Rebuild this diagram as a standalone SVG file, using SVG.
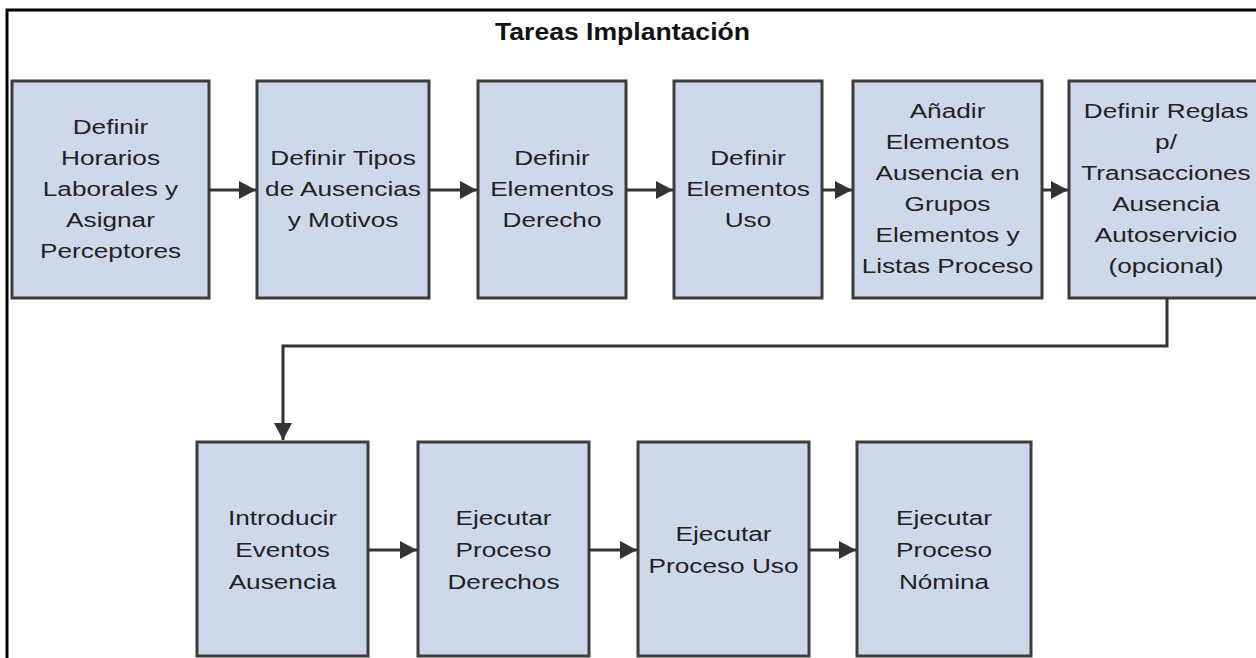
<svg xmlns="http://www.w3.org/2000/svg" width="1256" height="658" viewBox="0 0 1256 658">
<defs>
<style>
.box{fill:#cdd9ea;stroke:#3c3c3c;stroke-width:3}
.t{font-family:"Liberation Sans",Arial,sans-serif;font-size:20px;fill:#222;text-anchor:middle}
.ttl{font-family:"Liberation Sans",Arial,sans-serif;font-size:24px;font-weight:bold;fill:#111;text-anchor:middle}
.c{fill:none;stroke:#333;stroke-width:3}
</style>
<marker id="ah" markerUnits="userSpaceOnUse" markerWidth="18" markerHeight="20" viewBox="0 0 18 20" refX="17" refY="10" orient="auto">
<path d="M0,1 L17,10 L0,19 Z" fill="#333"/>
</marker>
</defs>
<rect width="1256" height="658" fill="#fff"/>
<path d="M7,658 V10 H1256" fill="none" stroke="#000" stroke-width="3"/>
<text class="ttl" x="622.5" y="40" textLength="255" lengthAdjust="spacingAndGlyphs">Tareas Implantación</text>

<g id="n1"><rect class="box" x="12" y="81" width="197" height="217"/>
<text class="t" transform="translate(110.5,0) scale(1.31,1)"><tspan x="0" y="134">Definir</tspan><tspan x="0" y="165">Horarios</tspan><tspan x="0" y="196">Laborales y</tspan><tspan x="0" y="227">Asignar</tspan><tspan x="0" y="258">Perceptores</tspan></text></g>

<g id="n2"><rect class="box" x="257" y="81" width="172" height="217"/>
<text class="t" transform="translate(343,0) scale(1.31,1)"><tspan x="0" y="165">Definir Tipos</tspan><tspan x="0" y="196">de Ausencias</tspan><tspan x="0" y="227">y Motivos</tspan></text></g>

<g id="n3"><rect class="box" x="478" y="81" width="148" height="217"/>
<text class="t" transform="translate(552,0) scale(1.31,1)"><tspan x="0" y="165">Definir</tspan><tspan x="0" y="196">Elementos</tspan><tspan x="0" y="227">Derecho</tspan></text></g>

<g id="n4"><rect class="box" x="674" y="81" width="148" height="217"/>
<text class="t" transform="translate(748,0) scale(1.31,1)"><tspan x="0" y="165">Definir</tspan><tspan x="0" y="196">Elementos</tspan><tspan x="0" y="227">Uso</tspan></text></g>

<g id="n5"><rect class="box" x="853" y="81" width="189" height="217"/>
<text class="t" transform="translate(947.5,0) scale(1.31,1)"><tspan x="0" y="118">Añadir</tspan><tspan x="0" y="149">Elementos</tspan><tspan x="0" y="180">Ausencia en</tspan><tspan x="0" y="211">Grupos</tspan><tspan x="0" y="242">Elementos y</tspan><tspan x="0" y="273">Listas Proceso</tspan></text></g>

<g id="n6"><rect class="box" x="1069" y="81" width="200" height="217"/>
<text class="t" transform="translate(1166,0) scale(1.31,1)"><tspan x="0" y="118">Definir Reglas</tspan><tspan x="0" y="149">p/</tspan><tspan x="0" y="180">Transacciones</tspan><tspan x="0" y="211">Ausencia</tspan><tspan x="0" y="242">Autoservicio</tspan><tspan x="0" y="273">(opcional)</tspan></text></g>

<g id="n7"><rect class="box" x="197" y="442" width="171" height="214"/>
<text class="t" transform="translate(282.5,0) scale(1.31,1)"><tspan x="0" y="525">Introducir</tspan><tspan x="0" y="557">Eventos</tspan><tspan x="0" y="589">Ausencia</tspan></text></g>

<g id="n8"><rect class="box" x="418" y="442" width="171" height="214"/>
<text class="t" transform="translate(503.5,0) scale(1.31,1)"><tspan x="0" y="525">Ejecutar</tspan><tspan x="0" y="557">Proceso</tspan><tspan x="0" y="589">Derechos</tspan></text></g>

<g id="n9"><rect class="box" x="638" y="442" width="171" height="214"/>
<text class="t" transform="translate(723.5,0) scale(1.31,1)"><tspan x="0" y="541">Ejecutar</tspan><tspan x="0" y="573">Proceso Uso</tspan></text></g>

<g id="n10"><rect class="box" x="857" y="442" width="174" height="214"/>
<text class="t" transform="translate(944,0) scale(1.31,1)"><tspan x="0" y="525">Ejecutar</tspan><tspan x="0" y="557">Proceso</tspan><tspan x="0" y="589">Nómina</tspan></text></g>

<g id="connectors">
<path class="c" d="M209,190 H256" marker-end="url(#ah)"/>
<path class="c" d="M429,190 H477" marker-end="url(#ah)"/>
<path class="c" d="M626,190 H673" marker-end="url(#ah)"/>
<path class="c" d="M822,190 H852" marker-end="url(#ah)"/>
<path class="c" d="M1042,190 H1068" marker-end="url(#ah)"/>
<path class="c" d="M1167,298 V346 H283 V440" marker-end="url(#ah)"/>
<path class="c" d="M368,550 H417" marker-end="url(#ah)"/>
<path class="c" d="M589,550 H637" marker-end="url(#ah)"/>
<path class="c" d="M809,550 H856" marker-end="url(#ah)"/>
</g>
</svg>
